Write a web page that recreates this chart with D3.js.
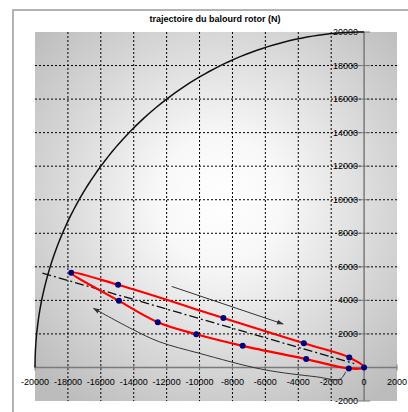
<!DOCTYPE html>
<html>
<head>
<meta charset="utf-8">
<script src="https://cdn.jsdelivr.net/npm/d3@7"></script>
<style>
  body { margin: 0; background: #fff; }
  text { font-family: "Liberation Sans", Arial, sans-serif; }
</style>
</head>
<body>
<div id="chart"></div>
<script>
// data
var xTicks = [-20000, -18000, -16000, -14000, -12000, -10000, -8000, -6000, -4000, -2000, 0, 2000];
var yTicks = [-2000, 0, 2000, 4000, 6000, 8000, 10000, 12000, 14000, 16000, 18000, 20000];
var circleRadius = 20000;

// rotor unbalance loop (N), in drawing order
var loopX = [0, -900, -3660, -8550, -14950, -17800, -14900, -12540, -10200, -7380, -3520, -930];
var loopY = [0, 600, 1440, 2950, 4930, 5650, 3970, 2700, 1980, 1290, 500, -60];

// dash-dot mean line
var meanX = [-19550, -600];
var meanY = [5630, 230];

// arrow going out (top) and arrow coming back (bottom)
var arrowTopX = [-11690, -4920];
var arrowTopY = [4830, 2590];
var arrowBotX = [-1120, -1460, -2880, -6140, -10000, -12440, -14090, -16450];
var arrowBotY = [-260, -700, -560, -120, 840, 1530, 2280, 3530];

var svg = d3.select("#chart")
    .append("svg")
    .attr("width", 408)
    .attr("height", 412);

var xScale = d3.scaleLinear().domain([-20000, 2000]).range([35, 397]);
var yScale = d3.scaleLinear().domain([-2000, 20000]).range([401, 32]);

// chart frame
svg.append("rect")
    .attr("x", 13).attr("y", 10)
    .attr("width", 420).attr("height", 420)
    .attr("fill", "#fff")
    .attr("stroke", "#9a9a9a")
    .attr("stroke-width", 1.5);

svg.append("text")
    .attr("x", 215).attr("y", 22)
    .attr("text-anchor", "middle")
    .attr("font-size", 9)
    .attr("font-weight", "bold")
    .text("trajectoire du balourd rotor (N)");

// plot background
var defs = svg.append("defs");
var grad = defs.append("radialGradient")
    .attr("id", "bg")
    .attr("gradientUnits", "userSpaceOnUse")
    .attr("cx", 220).attr("cy", 200).attr("r", 250);
grad.append("stop").attr("offset", "0%").attr("stop-color", "#ffffff");
grad.append("stop").attr("offset", "25%").attr("stop-color", "#f8f8f8");
grad.append("stop").attr("offset", "100%").attr("stop-color", "#bcbcbc");

defs.append("marker")
    .attr("id", "arrow")
    .attr("viewBox", "0 0 10 10")
    .attr("refX", 9).attr("refY", 5)
    .attr("markerWidth", 7).attr("markerHeight", 7)
    .attr("orient", "auto")
    .append("path")
    .attr("d", "M0,1.5 L10,5 L0,8.5 Z")
    .attr("fill", "#333");

svg.append("rect")
    .attr("x", xScale(-20000)).attr("y", yScale(20000))
    .attr("width", xScale(2000) - xScale(-20000))
    .attr("height", yScale(-2000) - yScale(20000))
    .attr("fill", "url(#bg)");

// dotted grid
svg.selectAll(".vgrid")
    .data(xTicks.filter(d => d != 0 && d != 2000 && d != -20000))
    .enter().append("line")
    .attr("x1", d => xScale(d)).attr("x2", d => xScale(d))
    .attr("y1", yScale(20000)).attr("y2", yScale(-2000))
    .attr("stroke", "#000")
    .attr("stroke-width", 1)
    .attr("stroke-dasharray", "2,2");

svg.selectAll(".hgrid")
    .data(yTicks.filter(d => d != 0 && d != 20000 && d != -2000))
    .enter().append("line")
    .attr("x1", xScale(-20000)).attr("x2", xScale(2000))
    .attr("y1", d => yScale(d)).attr("y2", d => yScale(d))
    .attr("stroke", "#000")
    .attr("stroke-width", 1)
    .attr("stroke-dasharray", "2,2");

// axes through origin
svg.append("line")
    .attr("x1", xScale(-20000)).attr("x2", xScale(2000))
    .attr("y1", yScale(0)).attr("y2", yScale(0))
    .attr("stroke", "#7a7a7a").attr("stroke-width", 1.5);
svg.append("line")
    .attr("x1", xScale(0)).attr("x2", xScale(0))
    .attr("y1", yScale(20000)).attr("y2", yScale(-2000))
    .attr("stroke", "#7a7a7a").attr("stroke-width", 1.5);

svg.selectAll(".xtick")
    .data(xTicks)
    .enter().append("line")
    .attr("x1", d => xScale(d)).attr("x2", d => xScale(d))
    .attr("y1", yScale(0) - 3).attr("y2", yScale(0) + 3)
    .attr("stroke", "#7a7a7a");
svg.selectAll(".ytick")
    .data(yTicks)
    .enter().append("line")
    .attr("x1", xScale(0) - 6).attr("x2", xScale(0) + 6)
    .attr("y1", d => yScale(d)).attr("y2", d => yScale(d))
    .attr("stroke", "#7a7a7a");

svg.selectAll(".xlabel")
    .data(xTicks)
    .enter().append("text")
    .attr("x", d => xScale(d))
    .attr("y", yScale(0) + 18)
    .attr("text-anchor", "middle")
    .attr("font-size", 9)
    .text(d => d);

svg.selectAll(".ylabel")
    .data(yTicks.filter(d => d != 0))
    .enter().append("text")
    .attr("x", xScale(0) - 6)
    .attr("y", d => yScale(d) + 3)
    .attr("text-anchor", "end")
    .attr("font-size", 9)
    .text(d => d);

// radius circle quarter
var arcAngles = d3.range(0, 91, 1).map(a => a * Math.PI / 180);
var arcLine = d3.line()
    .x(a => xScale(-circleRadius * Math.cos(a)))
    .y(a => yScale(circleRadius * Math.sin(a)));
svg.append("path")
    .attr("d", arcLine(arcAngles))
    .attr("fill", "none")
    .attr("stroke", "#111")
    .attr("stroke-width", 1.5);

// mean line
var meanPts = meanX.map((x, i) => [x, meanY[i]]);
svg.append("path")
    .attr("d", d3.line().x(d => xScale(d[0])).y(d => yScale(d[1]))(meanPts))
    .attr("fill", "none")
    .attr("stroke", "#111")
    .attr("stroke-width", 1.3)
    .attr("stroke-dasharray", "9,3,2,3");

// direction arrows
var topPts = arrowTopX.map((x, i) => [x, arrowTopY[i]]);
svg.append("path")
    .attr("d", d3.line().x(d => xScale(d[0])).y(d => yScale(d[1]))(topPts))
    .attr("fill", "none")
    .attr("stroke", "#333")
    .attr("stroke-width", 1)
    .attr("marker-end", "url(#arrow)");

var botPts = arrowBotX.map((x, i) => [x, arrowBotY[i]]);
svg.append("path")
    .attr("d", d3.line().curve(d3.curveCatmullRom).x(d => xScale(d[0])).y(d => yScale(d[1]))(botPts))
    .attr("fill", "none")
    .attr("stroke", "#333")
    .attr("stroke-width", 1)
    .attr("marker-end", "url(#arrow)");

// unbalance loop
var loopPts = loopX.map((x, i) => [x, loopY[i]]);
svg.append("path")
    .attr("d", d3.line().curve(d3.curveCatmullRomClosed.alpha(0.5))
        .x(d => xScale(d[0])).y(d => yScale(d[1]))(loopPts))
    .attr("fill", "none")
    .attr("stroke", "#ff0000")
    .attr("stroke-width", 2.2);

svg.selectAll(".pt")
    .data(loopPts)
    .enter().append("circle")
    .attr("cx", d => xScale(d[0]))
    .attr("cy", d => yScale(d[1]))
    .attr("r", 3)
    .attr("fill", "#00007a");
</script>
</body>
</html>
